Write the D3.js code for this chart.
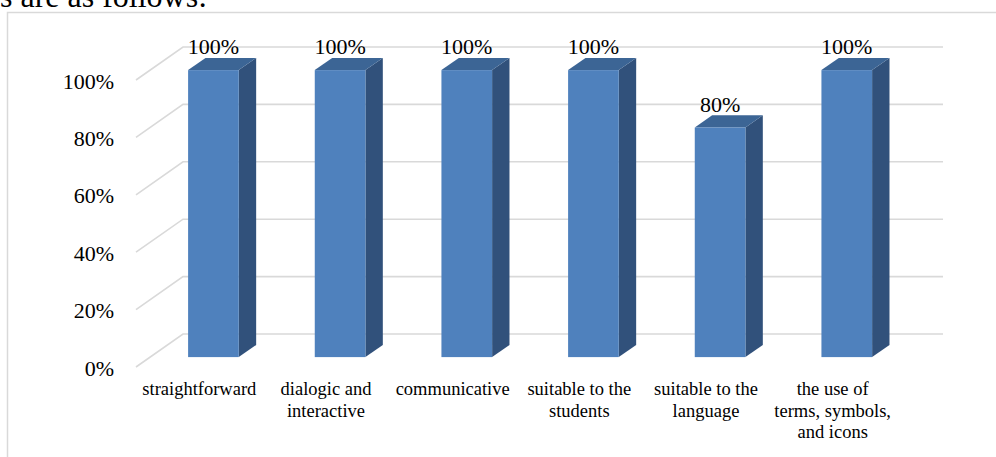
<!DOCTYPE html>
<html>
<head>
<meta charset="utf-8">
<script src="https://cdn.jsdelivr.net/npm/d3@7"></script>
<style>
  html, body { margin: 0; padding: 0; background: #fff; overflow: hidden; }
  svg { display: block; }
  text { font-family: "Liberation Serif", "Times New Roman", serif; fill: #000; }
</style>
</head>
<body>
<svg id="chart" width="996" height="457"></svg>
<script>
// Chart data
const categories = [
  "straightforward",
  "dialogic and interactive",
  "communicative",
  "suitable to the students",
  "suitable to the language",
  "the use of terms, symbols, and icons"
];
const values = [1.0, 1.0, 1.0, 1.0, 0.8, 1.0];
const yTicks = [0, 0.2, 0.4, 0.6, 0.8, 1.0];
const categoryLines = [
  ["straightforward"],
  ["dialogic and", "interactive"],
  ["communicative"],
  ["suitable to the", "students"],
  ["suitable to the", "language"],
  ["the use of", "terms, symbols,", "and icons"]
];
const introText = "s are as follows:";

const svg = d3.select("#chart");
const W = 996, H = 457;

// Back wall of the 3D plot area and the perspective shift toward the front
const back = { x0: 183, x1: 943, y0: 334, y1: 47 };
const depth = { dx: 47, dy: 33 };
const barFront = 0.3, barBack = 0.67; // depth positions (0 = front, 1 = back)

const x = d3.scaleBand().domain(categories).range([back.x0, back.x1]);
const y = d3.scaleLinear().domain([0, 1]).range([back.y0, back.y1]);
const pct = d3.format(".0%");

// project a back-wall point to depth t
function proj(xb, yb, t) {
  return [xb - depth.dx * (1 - t), yb + depth.dy * (1 - t)];
}

// Tail of the paragraph text above the chart
svg.append("text")
  .attr("x", 0).attr("y", 7)
  .style("font-size", "32px")
  .text(introText);

// Chart border
svg.append("rect")
  .attr("x", 7.5).attr("y", 12.5)
  .attr("width", W + 20).attr("height", H + 20)
  .attr("fill", "none")
  .attr("stroke", "#d9d9d9")
  .attr("stroke-width", 1.5);

// Gridlines: diagonal along the side floor, then across the back wall
const grid = svg.append("g").attr("stroke", "#d9d9d9").attr("stroke-width", 1.6).attr("fill", "none");
yTicks.forEach(t => {
  const p0 = proj(back.x0, y(t), 0);
  grid.append("path")
    .attr("d", d3.line()([p0, [back.x0, y(t)], [back.x1, y(t)]]));
});

// Y axis labels
svg.append("g").selectAll("text")
  .data(yTicks)
  .join("text")
  .attr("x", d => proj(back.x0, y(d), 0)[0] - 22)
  .attr("y", d => proj(back.x0, y(d), 0)[1] + 1)
  .attr("text-anchor", "end")
  .attr("dominant-baseline", "central")
  .style("font-size", "22px")
  .text(d => pct(d));

// 3D bars
const bw = x.bandwidth() * 0.4;
const bars = svg.append("g");
categories.forEach((c, i) => {
  const v = values[i];
  const xl = x(c) + (x.bandwidth() - bw) / 2;
  const xr = xl + bw;
  const g = bars.append("g");
  // side face
  g.append("polygon")
    .attr("points", [proj(xr, y(v), barFront), proj(xr, y(v), barBack), proj(xr, y(0), barBack), proj(xr, y(0), barFront)].join(" "))
    .attr("fill", "#31517b");
  // top face
  g.append("polygon")
    .attr("points", [proj(xl, y(v), barFront), proj(xl, y(v), barBack), proj(xr, y(v), barBack), proj(xr, y(v), barFront)].join(" "))
    .attr("fill", "#3c6595");
  // front face
  const f0 = proj(xl, y(v), barFront), f1 = proj(xr, y(0), barFront);
  g.append("rect")
    .attr("x", f0[0]).attr("y", f0[1])
    .attr("width", f1[0] - f0[0]).attr("height", f1[1] - f0[1])
    .attr("fill", "#4f81bd");
  // value label
  svg.append("text")
    .attr("x", (f0[0] + f1[0]) / 2)
    .attr("y", f0[1] - 16)
    .attr("text-anchor", "middle")
    .style("font-size", "22px")
    .text(pct(v));
});

// Category labels on the front edge of the floor
const cat = svg.append("g");
categories.forEach((c, i) => {
  const cx = proj(x(c) + x.bandwidth() / 2, y(0), 0)[0];
  const t = cat.append("text")
    .attr("text-anchor", "middle")
    .style("font-size", "18.5px");
  categoryLines[i].forEach((line, j) => {
    t.append("tspan").attr("x", cx).attr("y", 395 + j * 21.5).text(line);
  });
});
</script>
</body>
</html>
